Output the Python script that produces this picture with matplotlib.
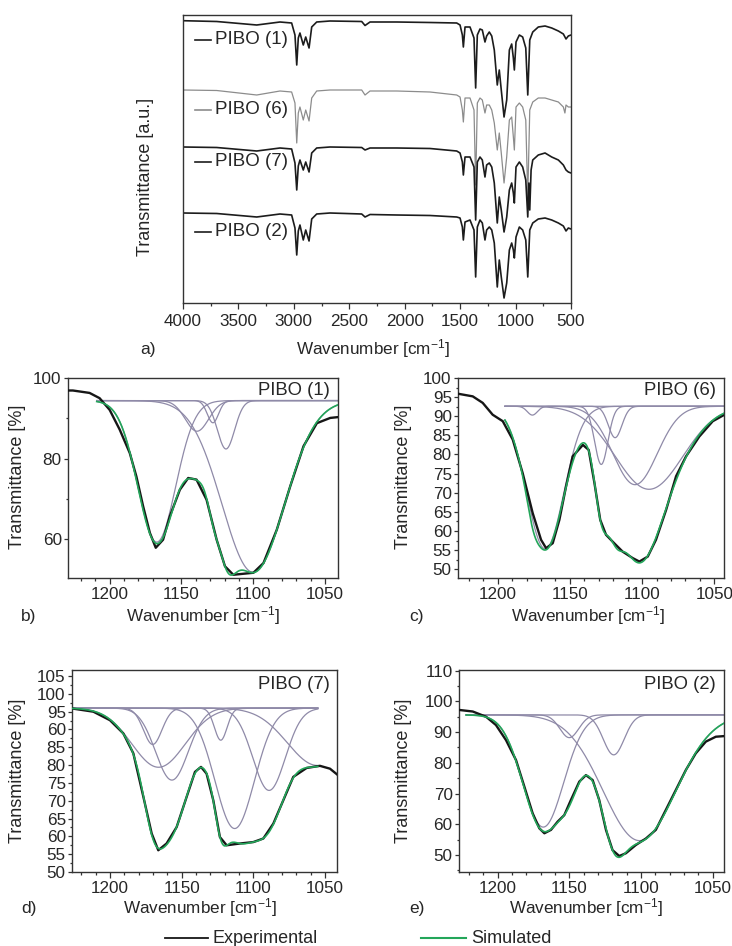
import numpy as np
import matplotlib
matplotlib.use("Agg")
import matplotlib.pyplot as plt
from matplotlib.lines import Line2D
from matplotlib.ticker import MultipleLocator

plt.rcParams['font.family'] = ['Liberation Sans', 'DejaVu Sans']
plt.rcParams['mathtext.fontset'] = 'custom'
plt.rcParams['mathtext.rm'] = 'Liberation Sans'
plt.rcParams['mathtext.default'] = 'regular'

TXT = '#262626'

# ---------------- (a) FTIR spectra (transmittance, arbitrary units, offset) ----------------
wn_p1 = [4000, 3696, 3335, 3125, 3020, 2990, 2974, 2960, 2945, 2915, 2893, 2863, 2839, 2794, 2674, 2388, 2358, 2313,
         2072, 1772, 1531, 1501, 1480, 1471, 1456, 1411, 1375, 1360, 1345, 1321, 1300, 1276, 1261, 1237, 1215, 1192,
         1165, 1147, 1129, 1104, 1080, 1056, 1035, 1020, 1011, 996, 966, 936, 908, 890, 872, 845, 795, 734, 674, 614,
         569, 545, 524, 500]
t_p1 = [282.3, 281.5, 278, 281, 280, 268, 238, 265, 270, 258, 266, 255, 276, 281, 282, 281.5, 277.5, 281,
        281, 280.5, 280, 278, 268, 256, 276, 276, 265, 215, 268, 274, 273, 261, 267, 271, 267, 253,
        218, 233, 213, 186, 203, 253, 259, 245, 233, 261, 268, 266, 255, 208, 263, 271, 276, 277, 275, 272,
        269, 264, 267, 268]

wn_p6 = [4000, 3696, 3335, 3125, 3020, 2990, 2974, 2960, 2945, 2915, 2893, 2863, 2839, 2794, 2674, 2388, 2358, 2313,
         2072, 1772, 1531, 1501, 1480, 1471, 1456, 1411, 1375, 1360, 1345, 1321, 1300, 1276, 1261, 1237, 1215, 1192,
         1165, 1147, 1129, 1104, 1080, 1056, 1035, 1020, 1011, 996, 966, 936, 908, 890, 872, 845, 795, 734, 674, 614,
         569, 555, 545, 524, 500]
t_p6 = [213, 212.5, 208, 212, 211, 200, 160, 190, 196, 183, 193, 182, 205, 212, 213, 213, 208, 212,
        212, 211, 208, 206, 193, 181, 205, 205, 193, 118, 200, 205, 203, 190, 198, 198, 193, 180,
        153, 170, 150, 120, 146, 183, 186, 166, 153, 196, 200, 196, 183, 106, 193, 201, 205, 205, 203, 201,
        196, 190, 198, 196, 196]

wn_p7 = [4000, 3696, 3335, 3125, 3020, 2990, 2974, 2960, 2945, 2915, 2893, 2863, 2839, 2794, 2674, 2388, 2358, 2313,
         2072, 1772, 1531, 1501, 1480, 1471, 1456, 1411, 1375, 1360, 1345, 1321, 1300, 1276, 1261, 1237, 1215, 1192,
         1165, 1147, 1129, 1104, 1080, 1056, 1035, 1020, 1011, 996, 966, 936, 908, 890, 880, 872, 860, 845, 795, 734,
         674, 614, 569, 545, 524, 500]
t_p7 = [156, 155.5, 152, 155, 154, 140, 113, 137, 143, 133, 141, 131, 150, 155, 156, 155.5, 153, 155,
        155, 154.5, 152, 150, 141, 128, 146, 146, 136, 83, 141, 146, 143, 126, 138, 140, 136, 120,
        80, 106, 93, 71, 86, 113, 120, 110, 100, 136, 141, 136, 123, 86, 120, 93, 133, 143, 148, 150,
        146, 143, 138, 133, 131, 130]

wn_p2 = [4000, 3696, 3335, 3125, 3020, 2990, 2974, 2960, 2945, 2915, 2893, 2863, 2839, 2794, 2674, 2388, 2358, 2313,
         2072, 1772, 1531, 1501, 1480, 1471, 1456, 1411, 1375, 1360, 1345, 1321, 1300, 1276, 1261, 1237, 1215, 1192,
         1165, 1147, 1129, 1104, 1080, 1056, 1035, 1020, 1011, 996, 966, 936, 908, 890, 872, 845, 795, 734, 674, 614,
         569, 545, 524, 500]
t_p2 = [90, 89.5, 86, 89, 88, 75, 48, 72, 78, 63, 73, 62, 84, 89, 90, 89, 86, 88.5,
        88, 87.5, 86, 85, 76, 63, 81, 83, 73, 26, 76, 83, 80, 63, 73, 76, 73, 60,
        16, 43, 26, 5, 20, 53, 60, 53, 45, 66, 76, 73, 63, 26, 73, 80, 84, 85, 83, 80,
        77, 72, 75, 74]

ir_labels = ['PIBO (1)', 'PIBO (6)', 'PIBO (7)', 'PIBO (2)']
ir_colors = ['#1c1c1c', '#8c8c8c', '#1c1c1c', '#1c1c1c']
ir_label_y = [263, 193, 141, 71]

# ---------------- (b)-(e) band fitting around 1100 cm-1 ----------------
# experimental spectra (wavenumber, transmittance %)
b_exp_wn = [1229, 1225.6, 1214, 1207, 1200, 1193, 1186, 1181.4, 1176.7, 1172, 1167.9, 1162.8, 1158.1, 1151.1, 1145.3,
            1139.5, 1132.5, 1125.5, 1119.7, 1113.9, 1099.9, 1092.9, 1083.6, 1074.3, 1065, 1055.7, 1046.4, 1041]
b_exp_t = [96.9, 96.9, 96.3, 95, 92.1, 87.2, 81.4, 75.6, 68.2, 61.6, 57.9, 59.9, 65.7, 72.3, 75.2,
           74.8, 69.8, 59.9, 53.3, 51.2, 51.7, 54.1, 62.4, 73.1, 83.1, 88.8, 90.1, 90.3]
c_exp_wn = [1227.7, 1217.3, 1210.4, 1203.5, 1196.5, 1189.6, 1182.7, 1175.8, 1170, 1166.5, 1161.9, 1157.3, 1152.7,
            1148.1, 1141, 1137, 1133, 1129, 1125, 1120.4, 1113.5, 1106.5, 1101.9, 1096.1, 1090.4, 1083.4, 1076.5,
            1069.6, 1060.4, 1051.1, 1043]
c_exp_t = [95.9, 95.2, 93.5, 90.4, 88.7, 83.9, 75.1, 64.7, 57.7, 55.5, 56.8, 62.9, 71.6,
           79.5, 82.5, 81.2, 72.5, 62.9, 59, 57.2, 54.6, 52.9, 52, 53.3, 57.7, 65.5, 74.3,
           79.5, 84.7, 88.7, 90.4]
d_exp_wn = [1226.5, 1211.6, 1200, 1190.7, 1183.7, 1176.7, 1170.9, 1166.3, 1160.5, 1153.5, 1146.5, 1140.7, 1136.5,
            1132.6, 1127.9, 1123.3, 1118.6, 1109.3, 1100, 1093, 1086, 1079.1, 1072.1, 1062.8, 1053.5, 1046.5, 1041.6]
d_exp_t = [95.9, 95, 92.6, 88.9, 83.3, 71.1, 60.8, 56.1, 58, 62.6, 71.1, 78.1, 79.5,
           77.6, 70.1, 59.8, 57.5, 58, 58.4, 59.4, 63.6, 70.1, 76.7, 79.2, 79.8, 79, 77.4]
e_exp_wn = [1226.7, 1217.4, 1208.1, 1201.2, 1194.2, 1187.2, 1181.4, 1175.6, 1170.9, 1167.4, 1162.8, 1158.1, 1153.5,
            1148.9, 1143, 1138.4, 1133.7, 1129.1, 1124.4, 1119.8, 1115.1, 1110.5, 1103.5, 1096.5, 1089.6, 1082.6,
            1075.6, 1068.6, 1061.7, 1054.7, 1047.7, 1041.9]
e_exp_t = [97.2, 96.7, 95, 92.3, 87.4, 80.9, 72.3, 63.6, 58.7, 57.1, 58.2, 60.9, 63,
           67.9, 73.9, 76, 74.4, 67.9, 58.2, 51.6, 49.7, 50.6, 53.3, 55.4, 58.2, 64.7,
           71.2, 77.7, 83.1, 86.9, 88.5, 88.7]

# fitted Gaussian components: baseline, centre, minimum transmittance, sigma, fitted range
b_base = 94.4
b_center = [1167.2, 1100.0, 1139.2, 1119.0, 1128.1]
b_tmin = [59.3, 51.8, 86.8, 82.4, 88.9]
b_sigma = [13.2, 21.7, 8.1, 6.0, 3.9]
b_range = (1209, 1041)

c_base = 92.6
c_center = [1176.0, 1167.1, 1128.3, 1118.7, 1104.9, 1095.2]
c_tmin = [90.3, 55.3, 77.4, 84.4, 72.1, 70.9]
c_sigma = [3.5, 12.9, 4.6, 4.7, 15.3, 23.3]
c_range = (1195, 1043)

d_base = 96.0
d_center = [1170.2, 1156.8, 1166.1, 1122.7, 1113.0, 1089.0, 1055.3]
d_tmin = [85.8, 75.8, 79.4, 87.0, 62.2, 72.9, 79.9]
d_sigma = [6.4, 11.4, 18.6, 4.4, 13.7, 11.3, 20.9]
d_range = (1226, 1055)

e_base = 95.6
e_center = [1168.2, 1150.0, 1119.0, 1101.0]
e_tmin = [59.1, 88.2, 82.6, 54.7]
e_sigma = [14.2, 6.6, 7.3, 25.3]
e_range = (1222, 1042)

panel_titles = ['PIBO (1)', 'PIBO (6)', 'PIBO (7)', 'PIBO (2)']
panel_letters = ['b)', 'c)', 'd)', 'e)']

# ---------------- figure ----------------
W, H = 732, 946
fig = plt.figure(figsize=(W / 100, H / 100), dpi=100)


def rect(l, t, r, b):
    return [l / W, 1 - b / H, (r - l) / W, (b - t) / H]


def style(ax, major_len=4, minor_len=2.5):
    for s in ax.spines.values():
        s.set_linewidth(1.0)
        s.set_color('#333333')
    ax.tick_params(which='both', direction='out', color='#333333', width=0.9, labelcolor=TXT)
    ax.tick_params(which='major', length=major_len)
    ax.tick_params(which='minor', length=minor_len)


# panel a
axa = fig.add_axes(rect(183, 15, 571, 303))
for wn, tt, col in zip([wn_p1, wn_p6, wn_p7, wn_p2], [t_p1, t_p6, t_p7, t_p2], ir_colors):
    axa.plot(wn, tt, color=col, lw=1.2 if col != '#8c8c8c' else 0.9)
for lab, col, yy in zip(ir_labels, ir_colors, ir_label_y):
    axa.plot([3890, 3745], [yy, yy], color=col, lw=1.2)
    axa.text(3715, yy, lab, fontsize=13.5, color=TXT, va='center', ha='left')
axa.set_xlim(4000, 500)
axa.set_ylim(0, 288)
axa.set_yticks([])
axa.xaxis.set_major_locator(MultipleLocator(500))
axa.xaxis.set_minor_locator(MultipleLocator(250))
style(axa)
axa.tick_params(axis='x', labelsize=12.3, pad=4)
fig.text(145 / W, 1 - 177 / H, 'Transmittance [a.u.]', rotation=90, fontsize=13, color=TXT,
         ha='center', va='center')
fig.text(148 / W, 1 - 349 / H, 'a)', fontsize=12.5, color=TXT, ha='center', va='center')
fig.text(373 / W, 1 - 349 / H, 'Wavenumber [cm$^{-1}$]', fontsize=12.3, color=TXT, ha='center', va='center')

# panels b-e
specs = [
    (rect(68, 378, 338, 578), b_exp_wn, b_exp_t, b_base, b_center, b_tmin, b_sigma, b_range,
     (1229, 1041), (50.4, 100), [60, 80, 100], None, 10, (0.970, 0.94), (29, 616), (203, 616), (18, 477)),
    (rect(458, 378, 724, 578), c_exp_wn, c_exp_t, c_base, c_center, c_tmin, c_sigma, c_range,
     (1227.5, 1043.3), (47.7, 100), list(range(50, 101, 5)), None, 2.5, (0.970, 0.94), (417, 616), (588, 616), (403, 477)),
    (rect(72, 670, 337, 872), d_exp_wn, d_exp_t, d_base, d_center, d_tmin, d_sigma, d_range,
     (1226.5, 1041.6), (50, 106.7), list(range(50, 106, 5)),
     ['50', '55', '60', '65', '70', '75', '80', '85', '60', '95', '100', '105'], 2.5, (0.974, 0.926),
     (29, 908), (200, 908), (18, 771)),
    (rect(459, 670, 724, 872), e_exp_wn, e_exp_t, e_base, e_center, e_tmin, e_sigma, e_range,
     (1227, 1042), (44.5, 110.2), list(range(50, 111, 10)), None, 5, (0.970, 0.926), (417, 908), (586, 908), (403, 771)),
]

for (r, xw, xt, base, cen, tmin, sig, frange, xlim, ylim, yt, ytl, yminor, tpos, lpos, xlpos, ylpos), title, letter \
        in zip(specs, panel_titles, panel_letters):
    ax = fig.add_axes(r)
    xx = np.linspace(frange[0], frange[1], 500)
    sim = np.full_like(xx, base)
    for c, t, s in zip(cen, tmin, sig):
        comp = base - (base - t) * np.exp(-(xx - c) ** 2 / (2 * s ** 2))
        sim -= (base - comp)
        ax.plot(xx, comp, color='#8f8aa8', lw=0.9, zorder=2)
    ax.plot(xw, xt, color='#161616', lw=1.7, zorder=3)
    ax.plot(xx, sim, color='#23a65a', lw=1.2, zorder=4)
    ax.set_xlim(*xlim)
    ax.set_ylim(*ylim)
    ax.set_xticks([1200, 1150, 1100, 1050])
    ax.xaxis.set_minor_locator(MultipleLocator(10))
    ax.set_yticks(yt)
    if ytl is not None:
        ax.set_yticklabels(ytl)
    ax.yaxis.set_minor_locator(MultipleLocator(yminor))
    style(ax, major_len=4, minor_len=2)
    ax.tick_params(axis='x', labelsize=12.3, pad=2.5)
    ax.tick_params(axis='y', labelsize=12.3, pad=1.5)
    ax.tick_params(axis='y', which='major', length=3)
    ax.tick_params(axis='y', which='minor', length=1.8)
    ax.text(tpos[0], tpos[1], title, transform=ax.transAxes, fontsize=13.3, color=TXT, ha='right', va='center')
    fig.text(lpos[0] / W, 1 - lpos[1] / H, letter, fontsize=12.5, color=TXT, ha='center', va='center')
    fig.text(xlpos[0] / W, 1 - xlpos[1] / H, 'Wavenumber [cm$^{-1}$]', fontsize=12.3, color=TXT,
             ha='center', va='center')
    fig.text(ylpos[0] / W, 1 - ylpos[1] / H, 'Transmittance [%]', rotation=90, fontsize=13, color=TXT,
             ha='center', va='center')

# bottom legend
fig.add_artist(Line2D([165 / W, 208 / W], [1 - 938 / H, 1 - 938 / H], color='#161616', lw=1.3))
fig.text(212 / W, 1 - 938 / H, 'Experimental', fontsize=13, color=TXT, ha='left', va='center')
fig.add_artist(Line2D([421 / W, 466 / W], [1 - 938 / H, 1 - 938 / H], color='#23a65a', lw=1.5))
fig.text(471 / W, 1 - 938 / H, 'Simulated', fontsize=13, color=TXT, ha='left', va='center')

fig.savefig('out.png', dpi=100)
